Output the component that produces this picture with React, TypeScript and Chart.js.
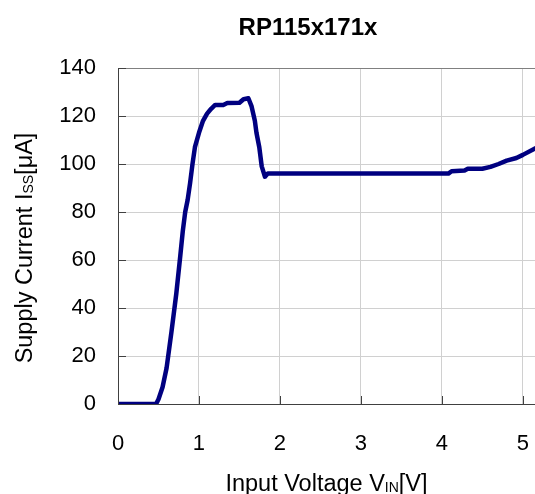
import React, { useEffect, useRef } from 'react';
import { Chart, registerables } from 'chart.js';

Chart.register(...registerables);

const voltage = [
  0, 0.47, 0.5, 0.55, 0.6, 0.66, 0.72, 0.77, 0.8, 0.83, 0.86, 0.89, 0.92, 0.95,
  1.0, 1.05, 1.1, 1.15, 1.2, 1.3, 1.35, 1.5, 1.55, 1.61, 1.65, 1.69, 1.71,
  1.745, 1.775, 1.815, 1.85, 1.9, 2.5, 3.0, 3.5, 4.08, 4.12, 4.28, 4.32, 4.5,
  4.6, 4.7, 4.8, 4.92, 5.0, 5.15,
];
const current = [
  0, 0, 2, 7, 15, 30, 46, 62, 72, 80, 85, 92, 100, 107,
  113, 118, 121, 123, 124.6, 124.6, 125.4, 125.5, 127, 127.4, 124, 118, 113,
  107, 99, 94.7, 96, 96, 96, 96, 96, 96, 97, 97.3, 98, 98,
  98.8, 100, 101.4, 102.5, 103.8, 106.5,
];
const xMin = 0;
const xMax = 5.15;
const xStep = 1;
const yMin = 0;
const yMax = 140;
const yStep = 20;

const chartTitle = 'RP115x171x';
const xTitle = ['Input Voltage V', 'IN', '[V]'];
const yTitle = ['Supply Current I', 'SS', '[μA]'];

const FONT = '"Liberation Sans", Arial, Helvetica, sans-serif';

function drawSegments(
  ctx: CanvasRenderingContext2D,
  segs: { t: string; size: number; bold?: boolean; dy?: number }[],
  cx: number,
  baseY: number,
) {
  let total = 0;
  const widths = segs.map((s) => {
    ctx.font = `${s.bold ? 'bold ' : ''}${s.size}px ${FONT}`;
    const w = ctx.measureText(s.t).width;
    total += w;
    return w;
  });
  let x = cx - total / 2;
  ctx.textAlign = 'left';
  ctx.textBaseline = 'alphabetic';
  ctx.fillStyle = '#000';
  segs.forEach((s, i) => {
    ctx.font = `${s.bold ? 'bold ' : ''}${s.size}px ${FONT}`;
    ctx.fillText(s.t, x, baseY + (s.dy || 0));
    x += widths[i];
  });
}

const textPlugin = {
  id: 'customTexts',
  afterDraw(chart: any) {
    const ctx: CanvasRenderingContext2D = chart.ctx;
    const a = chart.chartArea;
    const xs = chart.scales.x;
    const ys = chart.scales.y;
    ctx.save();
    ctx.strokeStyle = '#404040';
    ctx.lineWidth = 1;
    ctx.beginPath();
    xs.ticks.forEach((t: any) => {
      const px = Math.round(xs.getPixelForValue(t.value)) + 0.5;
      ctx.moveTo(px, a.bottom);
      ctx.lineTo(px, a.bottom - 8);
    });
    ys.ticks.forEach((t: any) => {
      const py = Math.round(ys.getPixelForValue(t.value)) + 0.5;
      ctx.moveTo(a.left, py);
      ctx.lineTo(a.left + 8, py);
    });
    ctx.stroke();

    drawSegments(ctx, [{ t: chartTitle, size: 24, bold: true }], 308, 35);
    drawSegments(
      ctx,
      [
        { t: xTitle[0], size: 23.5 },
        { t: xTitle[1], size: 14, dy: 1 },
        { t: xTitle[2], size: 23.5 },
      ],
      (a.left + a.right) / 2,
      491,
    );
    ctx.translate(32, 248);
    ctx.rotate(-Math.PI / 2);
    drawSegments(
      ctx,
      [
        { t: yTitle[0], size: 23.5 },
        { t: yTitle[1], size: 14, dy: 1 },
        { t: yTitle[2], size: 23.5 },
      ],
      0,
      0,
    );
    ctx.restore();
  },
};

export default function App() {
  const ref = useRef<HTMLCanvasElement>(null);
  useEffect(() => {
    document.body.style.margin = '0';
    const canvas = ref.current;
    if (!canvas) return;
    const chart = new Chart(canvas, {
      type: 'line',
      data: {
        datasets: [
          {
            data: voltage.map((v, i) => ({ x: v, y: current[i] })),
            borderColor: '#000080',
            borderWidth: 4.5,
            pointRadius: 0,
            tension: 0,
            fill: false,
            borderJoinStyle: 'round',
            borderCapStyle: 'round',
          },
        ],
      },
      options: {
        animation: false,
        responsive: false,
        devicePixelRatio: 1,
        layout: { padding: { top: 68, left: 0, right: 0, bottom: 0 } },
        plugins: {
          legend: { display: false },
          tooltip: { enabled: false },
          title: { display: false },
        },
        scales: {
          x: {
            type: 'linear',
            min: xMin,
            max: xMax,
            ticks: {
              stepSize: xStep,
              includeBounds: false,
              maxRotation: 0,
              color: '#000',
              padding: 27,
              font: { family: FONT, size: 22 },
            },
            grid: { color: '#d0d0d0', drawTicks: false },
            border: { color: '#404040', width: 1 },
            afterFit: (s: any) => {
              s.height = 90;
              s.paddingRight = 0;
              s.paddingLeft = 0;
            },
          },
          y: {
            type: 'linear',
            min: yMin,
            max: yMax,
            ticks: {
              stepSize: yStep,
              color: '#000',
              padding: 22,
              font: { family: FONT, size: 22 },
            },
            grid: {
              color: (c: any) => (c.tick && c.tick.value === yMax ? '#808080' : '#d0d0d0'),
              drawTicks: false,
            },
            border: { color: '#404040', width: 1 },
            afterFit: (s: any) => {
              s.width = 118;
              s.paddingTop = 0;
              s.paddingBottom = 0;
            },
          },
        },
      },
      plugins: [textPlugin],
    } as any);
    return () => chart.destroy();
  }, []);
  return <canvas ref={ref} width={535} height={494} style={{ display: 'block' }} />;
}
